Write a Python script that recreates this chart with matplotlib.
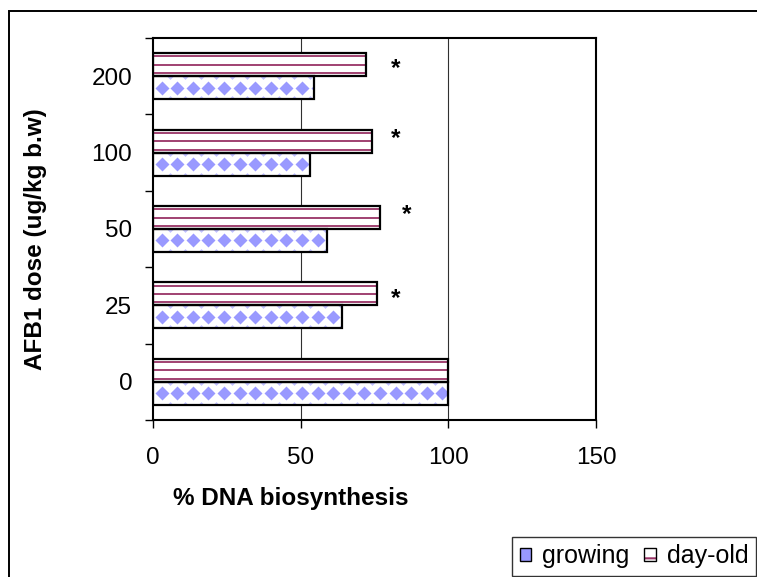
import numpy as np
import matplotlib
matplotlib.use("Agg")
import matplotlib.pyplot as plt
from matplotlib.patches import Patch, Rectangle
from matplotlib.legend_handler import HandlerTuple

plt.rcParams['font.family'] = ['Liberation Sans', 'DejaVu Sans']
plt.rcParams['hatch.linewidth'] = 1.5

# data
doses = ['0', '25', '50', '100', '200']
growing = [100, 64, 59, 53, 54.5]
day_old = [100, 76, 76.7, 74, 72]
star_x = [None, 82, 86, 82, 82]
star_y = [None, 1.09, 2.19, 3.19, 4.10]

blue = '#9999FF'
maroon = '#993366'
fs = 17.5

fig = plt.figure(figsize=(7.57, 5.77), dpi=100)
ax = fig.add_axes([153 / 757, 1 - 420 / 577, 443 / 757, 382 / 577])

y = np.arange(len(doses))
h = 0.3

ax.set_xlim(0, 150)
ax.set_ylim(-0.5, len(doses) - 0.5)

# vertical gridlines
for gx in [50, 100]:
    ax.axvline(gx, color='#303030', lw=0.8, zorder=0)

# pattern positions (fill texture only)
px = np.arange(2.95, 150, 5.28)

for i in range(len(doses)):
    # growing: white with blue diamonds
    yg = y[i] - h / 2
    b = ax.barh(yg, growing[i], height=h, color='white', edgecolor='none', zorder=2)[0]
    d, = ax.plot(px, np.full(px.shape, yg), ls='none', marker='D', ms=7.3,
                 color=blue, mec='none', zorder=3)
    d.set_clip_path(b)
    for edge in (yg - h / 2, yg + h / 2):
        e, = ax.plot(px + 2.64, np.full(px.shape, edge), ls='none', marker='D',
                     ms=3.5, color=blue, mec='none', alpha=0.6, zorder=3)
        e.set_clip_path(b)
    ax.barh(yg, growing[i], height=h, color='none', edgecolor='black', lw=1.6, zorder=4)

    # day-old: white with maroon stripes
    yd = y[i] + h / 2
    b2 = ax.barh(yd, day_old[i], height=h, color='white', edgecolor='none', zorder=2)[0]
    for off in (-0.11, 0, 0.11):
        ln = ax.hlines(yd + off, 0, day_old[i], color=maroon, lw=1.3, zorder=3)
        ln.set_clip_path(b2)
    ax.barh(yd, day_old[i], height=h, color='none', edgecolor='black', lw=1.6, zorder=4)

    if star_x[i] is not None:
        ax.text(star_x[i], star_y[i], '*', fontsize=fs, fontweight='bold',
                ha='center', va='center')

for s in ax.spines.values():
    s.set_linewidth(1.5)
    s.set_color('black')

ax.set_xticks([0, 50, 100, 150])
ax.tick_params(axis='x', direction='out', length=5.8, width=1, pad=14, labelsize=fs)
ax.set_yticks(y)
ax.set_yticklabels(doses)
ax.tick_params(axis='y', which='major', length=0, pad=15, labelsize=fs)
ax.set_yticks(np.arange(-0.5, len(doses), 1), minor=True)
ax.tick_params(axis='y', which='minor', direction='out', length=5.8, width=1)

fig.text(291 / 757, 1 - 498 / 577, '% DNA biosynthesis', fontsize=fs,
         fontweight='bold', ha='center', va='center')
fig.text(36 / 757, 1 - 239 / 577, 'AFB1 dose (ug/kg b.w)', fontsize=fs,
         fontweight='bold', rotation=90, ha='center', va='center')

# outer chart frame
fig.patches.append(Rectangle((9 / 757, -0.2), 1.2, 1.2 - 10.5 / 577,
                             transform=fig.transFigure, fill=False,
                             edgecolor='black', lw=1.4))

h_grow = Patch(facecolor=blue, edgecolor='black', lw=1)
h_day = (Patch(facecolor='white', edgecolor=maroon, hatch='-', lw=0),
         Patch(facecolor='none', edgecolor='black', lw=1))
leg = fig.legend([h_grow, h_day], ['growing', 'day-old'], ncol=2,
                 loc='upper left', bbox_to_anchor=(512 / 757, 1 - 537 / 577),
                 borderaxespad=0, fontsize=18, handlelength=0.45, handleheight=0.45,
                 handletextpad=0.45, columnspacing=0.6, borderpad=0.3,
                 frameon=True, fancybox=False, edgecolor='black',
                 handler_map={tuple: HandlerTuple(ndivide=1)})
leg.get_frame().set_linewidth(1)

fig.savefig('out.png', dpi=100)
